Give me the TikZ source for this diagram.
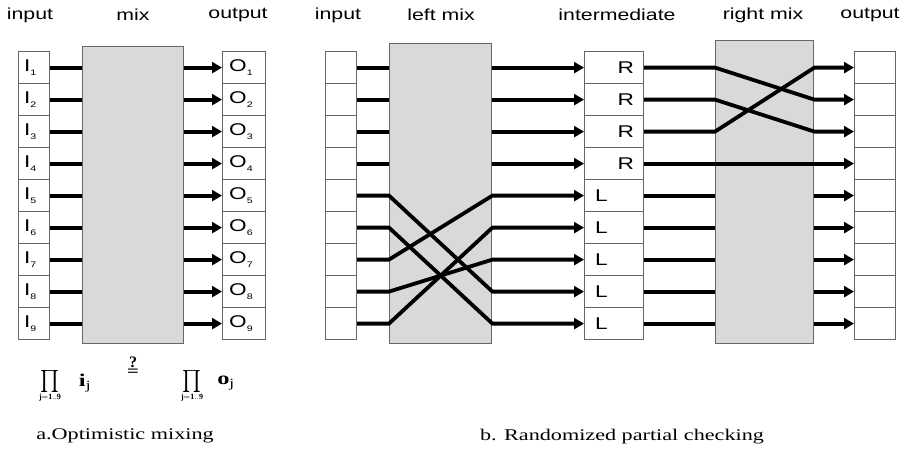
\documentclass[tikz,border=0pt]{standalone}
\usepackage{graphicx}
\usepackage{fontspec}
\setmainfont{Liberation Serif}
\newfontfamily\hdrfont[FakeStretch=1.33]{Liberation Sans}
\newfontfamily\capfont[FakeStretch=1.36]{Liberation Serif}
\usetikzlibrary{arrows.meta}
\tikzset{
  cellbox/.style={draw=black!60, line width=1.2pt, fill=white, minimum width=#1,
    minimum height=32pt, inner sep=0pt, anchor=north west},
  mixbox/.style={draw=black!60, line width=1.4pt, fill=black!15, inner sep=0pt, anchor=north west},
  wire/.style={line width=3.8pt, black},
  arr/.style={-{Triangle[length=10pt,width=11pt]}},
  hdr/.style={font=\hdrfont\fontsize{16}{18}\selectfont, inner sep=0pt},
  cellfont/.style={font=\hdrfont\fontsize{17}{19}\selectfont, inner sep=0pt},
  captext/.style={font=\capfont\fontsize{16.3}{18}\selectfont, inner sep=0pt},
  formula/.style={inner sep=0pt, font=\fontsize{12}{14}\selectfont},
}
\newcommand{\sbs}[1]{\raisebox{-4pt}{\fontsize{8}{9}\selectfont #1}}
\newcommand{\bigprod}{$\mathop{\vcenter{\hbox{\scalebox{2.0}[2.2]{$\prod$}}}}\limits_{\mathbf{j=1..9}}$}
\begin{document}
\begin{tikzpicture}[x=1pt,y=-1pt]
\useasboundingbox (0,0) rectangle (907,451);
% ---------- panel a ----------
\node[hdr] (ha1) at (30,15) {input};
\node[hdr] (ha2) at (133,15) {mix};
\node[hdr] (ha3) at (238,15) {output};
\node[mixbox, minimum width=101pt, minimum height=297pt] (mixa) at (82,46) {};
\foreach \i in {1,...,9} {
  \node[cellbox=31pt] (ia\i) at (18,{51+32*(\i-1)}) {};
  \node[cellfont, anchor=west] (ial\i) at ([xshift=6pt]ia\i.west) {I\sbs{\i}};
  \node[cellbox=43pt] (oa\i) at (222,{51+32*(\i-1)}) {};
  \node[cellfont, anchor=west] (oal\i) at ([xshift=7pt]oa\i.west) {O\sbs{\i}};
  \draw[wire] (ia\i.east) -- (mixa.west |- ia\i.east);
  \draw[wire,arr] (mixa.east |- oa\i.west) -- (oa\i.west);
}
\node[formula] (pa) at (50,386) {\bigprod};
\node[inner sep=0pt, font=\capfont\bfseries\fontsize{18}{20}\selectfont] (pia) at (85,383) {i\textsubscript{\mdseries j}};
\node[inner sep=0pt, font=\bfseries\fontsize{16}{18}\selectfont] (qe) at (133,367) {\shortstack{?\\[-2pt]\scalebox{1.3}[1]{=}}};
\node[formula] (pb) at (192,386) {\bigprod};
\node[inner sep=0pt, font=\capfont\bfseries\fontsize{18}{20}\selectfont] (pob) at (226,383) {o\textsubscript{\mdseries j}};
\node[captext] (capa) at (125,436) {a.Optimistic mixing};
% ---------- panel b ----------
\node[hdr] (hb1) at (338,15) {input};
\node[hdr] (hb2) at (441,15) {left mix};
\node[hdr] (hb3) at (617,15) {intermediate};
\node[hdr] (hb4) at (763,15) {right mix};
\node[hdr] (hb5) at (870,15) {output};
\node[mixbox, minimum width=102pt, minimum height=300pt] (lm) at (389,43) {};
\node[mixbox, minimum width=98pt, minimum height=303pt] (rm) at (715,40) {};
\foreach \i in {1,...,9} {
  \node[cellbox=31pt] (ib\i) at (325,{51+32*(\i-1)}) {};
  \node[cellbox=59pt] (mb\i) at (584,{51+32*(\i-1)}) {};
  \node[cellbox=41pt] (ob\i) at (854,{51+32*(\i-1)}) {};
}
\foreach \i in {1,...,4} {
  \node[cellfont, anchor=east] (rl\i) at ([xshift=-10pt]mb\i.east) {R};
}
\foreach \i in {5,...,9} {
  \node[cellfont, anchor=west] (ll\i) at ([xshift=11pt]mb\i.west) {L};
}
% left mix wires
\foreach \i in {1,...,4} {
  \draw[wire] (ib\i.east) -- (lm.west |- ib\i.east);
  \draw[wire,arr] (lm.east |- mb\i.west) -- (mb\i.west);
}
\foreach \a/\b in {5/8,6/9,7/5,8/7,9/6} {
  \draw[wire,arr] (ib\a.east) -- (lm.west |- ib\a.east) -- (lm.east |- mb\b.west) -- (mb\b.west);
}
% right mix wires
\foreach \a/\b in {1/2,2/3,3/1} {
  \draw[wire,arr] (mb\a.east) -- (rm.west |- mb\a.east) -- (rm.east |- ob\b.west) -- (ob\b.west);
}
\draw[wire,arr] (mb4.east) -- (ob4.west);
\foreach \i in {5,...,9} {
  \draw[wire] (mb\i.east) -- (rm.west |- mb\i.east);
  \draw[wire,arr] (rm.east |- ob\i.west) -- (ob\i.west);
}
\node[captext] (capb) at (622,437) {b. Randomized partial checking};
\end{tikzpicture}
\end{document}
